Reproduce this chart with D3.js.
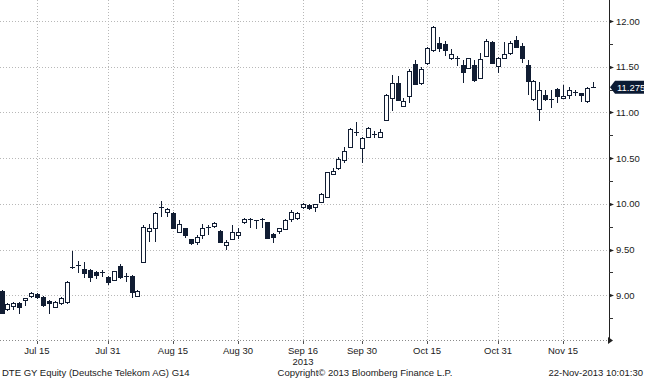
<!DOCTYPE html>
<html>
<head>
<meta charset="utf-8">
<script src="https://cdn.jsdelivr.net/npm/d3@7"></script>
<style>
  html, body { margin: 0; padding: 0; background: #ffffff; }
  svg { display: block; }
  text { font-family: "Liberation Sans", Arial, sans-serif; fill: #1a1a1a; }
</style>
</head>
<body>
<svg id="chart" width="645" height="380"></svg>
<script>
// ---- Data ----
const dates = [
  "2013-07-05","2013-07-08","2013-07-09","2013-07-10","2013-07-11","2013-07-12",
  "2013-07-15","2013-07-16","2013-07-17","2013-07-18","2013-07-19",
  "2013-07-22","2013-07-23","2013-07-24","2013-07-25","2013-07-26",
  "2013-07-29","2013-07-30","2013-07-31","2013-08-01","2013-08-02",
  "2013-08-05","2013-08-06","2013-08-07","2013-08-08","2013-08-09",
  "2013-08-12","2013-08-13","2013-08-14","2013-08-15","2013-08-16",
  "2013-08-19","2013-08-20","2013-08-21","2013-08-22","2013-08-23",
  "2013-08-26","2013-08-27","2013-08-28","2013-08-29","2013-08-30",
  "2013-09-02","2013-09-03","2013-09-04","2013-09-05","2013-09-06",
  "2013-09-09","2013-09-10","2013-09-11","2013-09-12","2013-09-13",
  "2013-09-16","2013-09-17","2013-09-18","2013-09-19","2013-09-20",
  "2013-09-23","2013-09-24","2013-09-25","2013-09-26","2013-09-27",
  "2013-09-30","2013-10-01","2013-10-02","2013-10-03","2013-10-04",
  "2013-10-07","2013-10-08","2013-10-09","2013-10-10","2013-10-11",
  "2013-10-14","2013-10-15","2013-10-16","2013-10-17","2013-10-18",
  "2013-10-21","2013-10-22","2013-10-23","2013-10-24","2013-10-25",
  "2013-10-28","2013-10-29","2013-10-30","2013-10-31","2013-11-01",
  "2013-11-04","2013-11-05","2013-11-06","2013-11-07","2013-11-08",
  "2013-11-11","2013-11-12","2013-11-13","2013-11-14","2013-11-15",
  "2013-11-18","2013-11-19","2013-11-20","2013-11-21","2013-11-22"
];
const openValues = [
  9.05,8.85,8.88,8.91,8.95,8.99,9.01,8.98,8.94,8.87,8.92,8.93,9.31,9.33,9.29,9.28,9.25,9.25,9.20,9.17,
  9.32,9.21,9.21,8.99,9.36,9.70,9.74,9.96,9.91,9.90,9.69,9.73,9.61,9.58,9.66,9.73,9.76,9.70,9.55,9.62,
  9.66,9.80,9.82,9.82,9.83,9.80,9.67,9.70,9.72,9.83,9.85,9.96,9.99,9.96,10.02,10.08,10.33,10.39,10.48,10.62,
  10.79,10.61,10.73,10.76,10.73,10.92,11.16,11.32,11.07,11.18,11.53,11.32,11.54,11.68,11.76,11.75,11.59,11.60,11.52,11.49,
  11.52,11.38,11.62,11.77,11.51,11.60,11.65,11.79,11.73,11.52,11.15,11.04,11.19,11.14,11.26,11.16,11.19,11.22,11.21,11.13,
  11.275
];
const highValues = [
  9.06,8.91,8.93,8.93,8.97,9.04,9.02,8.99,8.95,8.94,8.98,9.16,9.48,9.37,9.36,9.29,9.27,9.28,9.21,9.27,
  9.34,9.24,9.22,9.06,9.77,9.78,9.91,10.03,9.95,9.91,9.82,9.74,9.62,9.66,9.78,9.77,9.80,9.71,9.60,9.77,
  9.73,9.85,9.85,9.82,9.84,9.80,9.68,9.74,9.83,9.93,9.91,10.01,10.00,10.00,10.12,10.34,10.39,10.51,10.62,10.83,
  10.90,10.73,10.84,10.80,10.82,11.20,11.41,11.40,11.16,11.47,11.57,11.50,11.72,11.95,11.82,11.78,11.69,11.62,11.57,11.60,
  11.57,11.65,11.80,11.78,11.61,11.77,11.78,11.84,11.76,11.57,11.35,11.33,11.25,11.24,11.27,11.30,11.28,11.25,11.21,11.28,
  11.33
];
const lowValues = [
  8.80,8.83,8.84,8.79,8.88,8.97,8.96,8.87,8.79,8.86,8.89,8.90,9.29,9.24,9.19,9.14,9.18,9.20,9.11,9.16,
  9.18,9.14,8.97,8.98,9.35,9.58,9.58,9.86,9.86,9.72,9.68,9.63,9.55,9.55,9.62,9.66,9.73,9.57,9.50,9.61,
  9.62,9.78,9.73,9.72,9.73,9.62,9.57,9.67,9.71,9.80,9.82,9.94,9.93,9.91,10.01,10.07,10.31,10.37,10.45,10.61,
  10.74,10.45,10.72,10.72,10.72,10.91,11.02,11.13,11.06,11.10,11.30,11.30,11.52,11.66,11.66,11.62,11.57,11.51,11.32,11.48,
  11.33,11.38,11.61,11.53,11.43,11.59,11.63,11.70,11.54,11.19,11.13,10.91,11.13,11.05,11.10,11.15,11.15,11.18,11.11,11.10,
  11.27
];
const closeValues = [
  8.81,8.90,8.92,8.87,8.97,9.02,8.98,8.89,8.92,8.93,8.97,9.15,9.30,9.33,9.24,9.20,9.22,9.25,9.15,9.26,
  9.20,9.21,9.03,9.05,9.75,9.73,9.90,9.96,9.94,9.73,9.78,9.66,9.57,9.64,9.74,9.75,9.79,9.58,9.58,9.69,
  9.69,9.83,9.83,9.82,9.83,9.63,9.64,9.73,9.82,9.91,9.90,10.00,9.95,10.00,10.11,10.35,10.36,10.49,10.58,10.82,
  10.79,10.72,10.83,10.76,10.79,11.19,11.32,11.14,11.12,11.45,11.31,11.47,11.71,11.93,11.71,11.68,11.64,11.60,11.44,11.59,
  11.35,11.58,11.78,11.54,11.60,11.64,11.76,11.72,11.60,11.34,11.34,11.24,11.15,11.15,11.18,11.18,11.25,11.22,11.19,11.27,
  11.275
];
const xTickDates  = ["2013-07-15","2013-07-31","2013-08-15","2013-08-30","2013-09-16","2013-09-30","2013-10-15","2013-10-31","2013-11-15"];
const xTickLabels = ["Jul 15","Jul 31","Aug 15","Aug 30","Sep 16","Sep 30","Oct 15","Oct 31","Nov 15"];
const yMajorTicks = [9.00, 9.50, 10.00, 10.50, 11.00, 11.50, 12.00];
const yMinorTicks = [8.75, 9.25, 9.75, 10.25, 10.75, 11.25, 11.75];
const lastPrice = 11.275;
const yearLabel = "2013";
const footerLeft = "DTE GY Equity (Deutsche Telekom AG) G14";
const footerMid = "Copyright\u00A9 2013 Bloomberg Finance L.P.";
const footerRight = "22-Nov-2013 10:01:30";

// ---- Layout ----
const plotBottom = 340, axisX = 609;
const dark = "#111d33";
const gridColor = "#b8b8b8";

const svg = d3.select("#chart");
const x = d3.scalePoint().domain(dates).range([1.5, 592.6]);
const y = d3.scaleLinear().domain([8.51, 12.23]).range([plotBottom, 0]);

const data = dates.map((d, i) => ({
  d, o: openValues[i], h: highValues[i], l: lowValues[i], c: closeValues[i]
}));

// gridlines
const grid = svg.append("g").attr("shape-rendering", "crispEdges");
grid.selectAll("line.hg").data(yMajorTicks).join("line")
  .attr("x1", 0).attr("x2", axisX)
  .attr("y1", d => Math.round(y(d)) + 0.5).attr("y2", d => Math.round(y(d)) + 0.5)
  .attr("stroke", gridColor).attr("stroke-dasharray", "1,2");
grid.selectAll("line.vg").data(xTickDates).join("line")
  .attr("x1", d => Math.round(x(d)) + 0.5).attr("x2", d => Math.round(x(d)) + 0.5)
  .attr("y1", 0).attr("y2", plotBottom)
  .attr("stroke", gridColor).attr("stroke-dasharray", "1,2");
// bottom dotted axis
grid.append("line")
  .attr("x1", 0).attr("x2", axisX).attr("y1", plotBottom + 0.5).attr("y2", plotBottom + 0.5)
  .attr("stroke", "#8a8a8a").attr("stroke-dasharray", "1,2");

// candles
const candles = svg.append("g").attr("shape-rendering", "crispEdges");
const bw = 4;
data.forEach(p => {
  const cx = Math.round(x(p.d));
  const g = candles.append("g");
  g.append("line")
    .attr("x1", cx + 0.5).attr("x2", cx + 0.5)
    .attr("y1", y(p.h)).attr("y2", y(p.l))
    .attr("stroke", dark).attr("stroke-width", 1);
  const top = Math.round(y(Math.max(p.o, p.c)));
  const bot = Math.round(y(Math.min(p.o, p.c)));
  if (bot - top < 2) {
    g.append("line")
      .attr("x1", cx - 2).attr("x2", cx + 3)
      .attr("y1", top + 0.5).attr("y2", top + 0.5)
      .attr("stroke", dark).attr("stroke-width", 1.3);
  } else if (p.c >= p.o) {
    g.append("rect")
      .attr("x", cx - 1.5).attr("y", top + 0.5)
      .attr("width", bw).attr("height", bot - top)
      .attr("fill", "#ffffff").attr("stroke", dark).attr("stroke-width", 1);
  } else {
    g.append("rect")
      .attr("x", cx - 2).attr("y", top)
      .attr("width", bw + 1).attr("height", bot - top + 1)
      .attr("fill", dark);
  }
});

// y axis
const ya = svg.append("g");
ya.append("line").attr("x1", axisX + 0.5).attr("x2", axisX + 0.5)
  .attr("y1", 0).attr("y2", plotBottom + 1)
  .attr("stroke", "#222").attr("shape-rendering", "crispEdges");
ya.selectAll("line.minor").data(yMinorTicks).join("line")
  .attr("x1", axisX).attr("x2", axisX + 4)
  .attr("y1", d => Math.round(y(d)) + 0.5).attr("y2", d => Math.round(y(d)) + 0.5)
  .attr("stroke", "#333").attr("shape-rendering", "crispEdges");
ya.selectAll("path.major").data(yMajorTicks).join("path")
  .attr("d", d => {
    const yy = Math.round(y(d)) + 0.5;
    return `M${axisX},${yy - 2}L${axisX + 5},${yy}L${axisX},${yy + 2}Z`;
  })
  .attr("fill", "#222");
ya.selectAll("text").data(yMajorTicks).join("text")
  .attr("x", axisX + 7).attr("y", d => y(d) + 3.5)
  .attr("font-size", "9.5px")
  .text(d => d3.format(".2f")(d));

// bottom axis arrow
svg.append("path")
  .attr("d", `M${axisX - 1},${plotBottom - 3}L${axisX + 4},${plotBottom + 0.5}L${axisX - 1},${plotBottom + 4}Z`)
  .attr("fill", "#222");

// last price tag
const ly = y(lastPrice);
svg.append("path")
  .attr("d", `M${axisX + 1},${ly}L${axisX + 6},${ly - 6.5}L644,${ly - 6.5}L644,${ly + 6.5}L${axisX + 6},${ly + 6.5}Z`)
  .attr("fill", "#0b1a33");
svg.append("text").attr("x", axisX + 8).attr("y", ly + 3.5)
  .attr("font-size", "9.5px").style("fill", "#ffffff")
  .text(d3.format(".3f")(lastPrice));

// x axis labels
const xa = svg.append("g");
xa.selectAll("line").data(xTickDates).join("line")
  .attr("x1", d => Math.round(x(d)) + 0.5).attr("x2", d => Math.round(x(d)) + 0.5)
  .attr("y1", plotBottom + 1).attr("y2", plotBottom + 4)
  .attr("stroke", "#555").attr("shape-rendering", "crispEdges");
xa.selectAll("text").data(xTickDates).join("text")
  .attr("x", d => x(d)).attr("y", 354)
  .attr("text-anchor", "middle").attr("font-size", "9.5px")
  .text((d, i) => xTickLabels[i]);
xa.append("text").attr("x", x("2013-09-16")).attr("y", 365)
  .attr("text-anchor", "middle").attr("font-size", "9.5px").text(yearLabel);

// footer
svg.append("text").attr("x", 2).attr("y", 376).attr("font-size", "9.5px").text(footerLeft);
svg.append("text").attr("x", 365).attr("y", 376).attr("text-anchor", "middle").attr("font-size", "9.5px").text(footerMid);
svg.append("text").attr("x", 643).attr("y", 376).attr("text-anchor", "end").attr("font-size", "9.5px").text(footerRight);
</script>
</body>
</html>
